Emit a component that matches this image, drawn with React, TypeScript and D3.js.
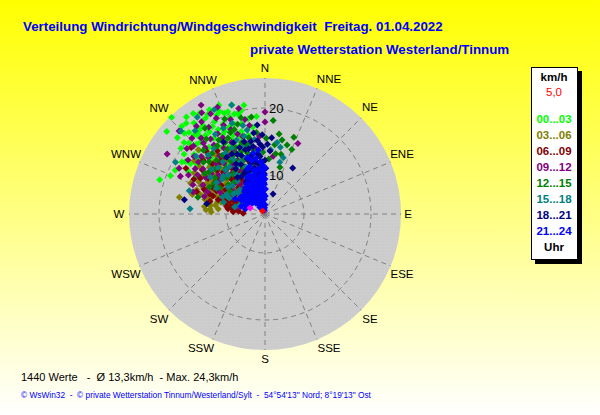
import { useEffect, useRef } from "react";
import * as d3 from "d3";

type Reading = [number, number]; // direction in degrees, speed in km/h

const directions = ["N", "NNE", "NE", "ENE", "E", "ESE", "SE", "SSE", "S", "SSW", "SW", "WSW", "W", "WNW", "NW", "NNW"];
const speedTicks = [10, 20];
const hourBands = ["00...03", "03...06", "06...09", "09...12", "12...15", "15...18", "18...21", "21...24"];
const bandColors = ["#00ff00", "#808000", "#800000", "#800080", "#008000", "#008080", "#000080", "#0000ff"];

const band00: Reading[] = [
  [316, 24.2], [310, 23.3], [288, 20.7], [292, 19.4], [319, 22.1], [349, 20.7], [340, 20.4], [355, 18.8], [327, 22.1], [311, 21.5],
  [302, 18.8], [296, 19.1], [334, 20.6], [322, 21.4], [317, 20.8], [313, 19.7], [308, 20.1], [304, 17.6], [325, 20.3], [330, 21.3],
  [337, 21.8], [343, 21.2], [345, 19.6], [350, 18.6], [341, 18.4], [335, 19], [329, 19.4], [323, 18.9], [318, 18.6], [314, 17.9],
  [310, 18], [306, 16.7], [320, 17.2], [326, 17.8], [332, 17.6], [338, 16.9], [344, 17], [348, 16.2], [327, 16], [333, 15.6],
  [339, 15], [321, 15.4], [316, 15.8], [311, 15.1], [330, 14.2], [336, 13.6], [324, 13.3], [341, 14.2], [347, 14.8], [318, 20],
  [326, 19], [334, 17.9], [340, 19.5], [312, 16.6], [328, 21], [299, 17.2], [320, 19.8], [336, 20.9], [315, 21.2], [331, 18.6],
  [324.5, 22.6], [331.5, 19.9], [328.5, 17.1], [322.5, 20.1], [319.5, 19.3], [315.5, 18.8], [311.5, 20.3], [306.5, 19.2], [303.5, 18.4], [337.5, 18.2],
  [342.5, 16.3], [345.5, 18.1], [352, 17.3], [335.5, 16.3], [329.5, 15.1], [323.5, 16.5], [318.5, 14.3], [313.5, 14], [309, 16.9], [300, 16],
  [297, 15.9], [343, 19.8], [347, 20], [332, 21.8], [338, 20.4], [321, 22.8], [316.5, 22.2],
];
const band03: Reading[] = [
  [281, 17.2], [274, 13], [277, 13.3], [295, 12.8], [290, 12], [298, 14], [302, 15], [306, 16.2], [312, 16.8], [287, 14.3],
  [284, 11.5], [292, 10.5], [297, 11], [303, 12.2], [309, 13.5], [315, 15], [320, 15.6], [288, 9.8], [294, 9], [300, 9.9],
  [306, 10.8], [312, 11.9], [318, 12.9], [324, 14], [299, 13.2], [293, 13.8], [286, 12.7], [280, 11.7], [310, 15], [305, 13.9],
  [316, 13.6], [322, 11.8], [328, 12.6], [283, 10.2], [290, 8.2], [297, 7.6], [304, 8.6], [311, 9.6], [318, 10.6], [296, 15.2],
  [300, 16.4], [307, 17.4], [314, 18], [285, 15.4], [272, 12.2], [330, 14.8], [288, 11], [308, 11.6], [317, 11.8], [326, 10],
  [291.5, 11.3], [294.5, 12.1], [296.5, 10], [299.5, 11.6], [302.5, 10.7], [301.5, 13.4], [304.5, 14.8], [288.5, 13.2], [283.5, 13.4], [278.5, 12.4],
  [307.5, 12.6], [313.5, 12.7], [319.5, 14.2], [311, 14.3], [294, 14.6], [289.5, 15], [292.5, 16.2], [276, 11.2], [286, 9.4], [298, 8.6],
  [281.5, 12.6], [275, 12.4], [285, 11], [290.5, 13.6],
];
const band06: Reading[] = [
  [274, 8.2], [287, 11.5], [281, 10], [292, 14], [297, 13], [303, 11.9], [309, 10.6], [315, 9.6], [285, 8.2], [291, 9.6],
  [296, 8.4], [302, 7.2], [308, 7.9], [314, 8.4], [320, 9.5], [326, 10.4], [289, 12.4], [294, 11.2], [300, 10.3], [306, 12.8],
  [312, 13.8], [318, 14.4], [324, 12.6], [330, 11.4], [283, 12.6], [278, 9.6], [276, 6.8], [287, 6.6], [298, 5.8], [310, 6.4],
  [322, 7.2], [334, 9], [299, 15.2], [305, 15.6], [311, 16.4], [296, 16], [317, 17], [329, 13.4], [335, 12.2], [293, 7.4],
  [304, 9.2], [316, 11.4], [302, 14.2], [290, 13], [323, 16], [272, 5.6], [280, 7.4], [340, 10.4], [345, 8.6], [328, 8.2],
  [300, 17.8], [312, 19], [319, 13], [286.5, 10.2], [292.5, 8.8], [298.5, 7.4], [305.5, 10.6], [310.5, 12.4], [301.5, 11.1], [295.5, 12.2],
  [283.5, 9.1], [289.5, 10.8], [307.5, 14.6], [313.5, 15], [319.5, 11.2], [325, 9.2], [331.5, 9.6], [337, 11.2], [342.5, 12.6], [279, 8.6],
  [288, 14.9], [303.5, 13], [315, 13], [322, 14.6],
];
const band09: Reading[] = [
  [301.5, 21.3], [329.6, 23], [336, 21.6], [360, 19.4], [360, 17.9], [298, 18.7], [297, 17], [287, 15.4], [25, 15.8], [8, 12.9],
  [322, 20.8], [316, 19.9], [327, 19.6], [333, 20.2], [340, 19.2], [346, 20.4], [350, 17.6], [310, 19.4], [305, 18.2], [318, 17.5],
  [324, 18], [331, 17.2], [338, 17.8], [344, 16.2], [312, 17], [306, 15.6], [300, 15.8], [316, 14.6], [322, 15.2], [328, 15.8],
  [334, 14.6], [340, 13], [346, 12.8], [352, 14], [310, 13.2], [304, 12.6], [296, 11.6], [292, 15.8], [320, 12], [326, 13],
  [332, 11.6], [338, 10.8], [344, 10.2], [314, 10.6], [306, 9.8], [298, 9.2], [322, 9.2], [330, 9.8], [336, 8.4], [350, 11],
  [284, 7.2], [300, 6.6], [318, 7.4], [342, 8], [328, 22], [314, 22], [320, 19], [335, 18.8], [308, 16.8], [294, 18],
  [356, 15.8], [348, 18.6], [325.5, 20.9], [331.5, 21.2], [319, 18.2], [323.5, 17], [329.5, 18.1], [313.5, 18.9], [309, 17.8], [303, 16.6],
  [335, 16], [341, 16.8], [315, 16.1], [321, 13.9], [327.5, 14.4], [333, 13.2], [307, 14.2], [301.5, 14.6], [313, 12.6], [319, 10.4],
  [325.5, 11.4], [291, 13.4], [286, 13.6], [295, 14.4], [344, 14.6], [349, 15.4],
];
const band12: Reading[] = [
  [5, 18.2], [10, 16.3], [13, 15.5], [22.6, 14.6], [20.6, 16.4], [17.7, 15], [1, 15.5], [10, 13.3], [17.7, 11.5], [284, 14.5],
  [352, 18.8], [346, 19], [340, 17.6], [334, 16.8], [328, 17.2], [322, 18.4], [316, 17.4], [310, 16.2], [304, 15], [296, 13.4],
  [348, 15.8], [342, 15.4], [336, 15], [330, 15.4], [324, 15], [318, 15], [312, 14.2], [306, 13.4], [300, 12], [354, 16.4],
  [350, 13.8], [344, 13.6], [338, 12.8], [332, 13], [326, 12], [320, 13.2], [314, 12], [358, 13.4], [8, 14.6], [354, 11.8],
  [346, 11.4], [340, 9.6], [334, 10.6], [326, 8.8], [318, 8.2], [300, 6.8], [4, 12.4], [15, 13.4], [325, 19.8], [337, 19.6],
  [343, 18.2], [337, 17.4], [331, 16.4], [325, 16.6], [319, 16.2], [313, 15.6], [307, 14.6], [301, 13], [345, 15], [339, 14.2],
  [333, 14.2], [327, 13.6], [321, 11.8], [315, 10.8], [309, 11.2], [303, 10.4], [347, 12.6], [341, 11.4], [335, 11.8], [329, 11],
];
const band15: Reading[] = [
  [343, 21.2], [325, 21.8], [314.6, 21.8], [274, 15.4], [287, 16], [16, 12.2], [9.6, 15], [355, 13.2], [13, 14.4], [18, 13],
  [352, 15.4], [346, 17.8], [340, 18.6], [334, 18.4], [328, 18.2], [322, 16.6], [316, 16.4], [310, 14.6], [304, 14], [298, 12.4],
  [348, 14.6], [342, 14.6], [336, 14], [330, 13.6], [324, 11.4], [318, 13], [312, 12.6], [306, 11], [302, 9.6], [294, 10],
  [350, 12.2], [344, 11.8], [338, 11.8], [332, 10.8], [326, 11], [320, 10.6], [314, 9], [308, 8.6], [342, 9.6], [336, 7.6],
  [330, 7.4], [322, 6.4], [290, 7], [283, 8], [300, 19.6], [320, 20.4], [334, 21.5], [310, 17.6], [5, 13.8], [348, 17],
  [345, 16.2], [339, 16], [333, 15.2], [327, 15], [321, 14.2], [315, 14], [309, 12.4], [303, 12.8], [297, 10.6], [292, 11],
  [347, 13.2], [341, 13], [335, 12.8], [329, 12.4], [323, 13], [317, 12.2], [311, 10.6], [305, 9.4], [343, 10.6], [337, 9.8],
  [331, 9.2], [325, 8.6], [319, 8], [286, 10.6],
];
const band18: Reading[] = [
  [31, 12.2], [22, 5.5], [355, 17.5], [280, 16.4], [280, 13], [4.5, 13.6], [356, 14.6], [352, 16.4], [349, 15.2], [346, 14.2],
  [342, 12.8], [338, 13.6], [334, 12.4], [330, 12.8], [353, 13.2], [350, 12], [347, 11.2], [344, 12], [340, 11], [336, 11.2],
  [332, 9.8], [328, 10.8], [354, 11], [351, 10.4], [348, 9.8], [345, 9], [341, 8.6], [337, 9.6], [333, 8], [329, 7],
  [356, 9.2], [353, 8.6], [350, 7.8], [346, 7.6], [342, 6.6], [338, 6.2], [0, 12.2], [2, 14.6], [357, 12], [359, 10.2],
  [5, 15.6], [1, 11], [358, 16], [352, 6.4], [346, 5.4], [320, 8], [310, 5.2], [344, 15.4], [336, 15.8], [326, 14.4],
  [330, 16.6], [350, 14.4], [354, 15.2], [347, 13.1], [343, 14.2], [339, 14.8], [335, 14], [331, 14.4], [327, 12.2], [323, 11],
  [348, 12.2], [352, 11.8], [345, 11], [341, 10], [337, 10.6], [333, 11], [329, 9.4], [325, 7.6], [355, 12.8], [358, 14.2],
];
const band21: Reading[] = [
  [333, 2.9], [340, 4], [345, 5], [350, 6], [355, 7], [358, 8], [0, 9], [352, 8.4], [347, 7.4], [342, 6.2],
  [337, 5.2], [331, 4.2], [326, 3.2], [356, 5.2], [352, 4.4], [347, 3.8], [342, 3.2], [338, 2.4], [358, 3.8], [354, 2.6],
  [349, 2], [344, 1.6], [0, 2.4], [356, 1.6], [350, 1], [1, 4.6], [1, 6.4], [359, 7.6], [356, 9], [353, 9.8],
  [349, 9.2], [345, 8.4], [341, 7.6], [337, 6.8], [333, 6], [329, 5.2], [325, 4.4], [320, 3.6], [314, 4.2], [306, 4.4],
  [300, 5], [296, 5.6], [359, 10], [356, 10.6], [352, 11], [348, 10.6], [344, 10.2], [340, 9.4], [336, 8.6], [332, 7.6],
  [328, 6.4], [323, 5.2], [358, 11.4], [355, 12], [351, 12.6], [346, 12.4], [342, 11.6], [338, 10.4], [0, 11], [349, 5.6],
  [343, 4.8], [336, 3.8], [330, 2.6], [322, 2.2], [354, 8], [350, 9.4], [346, 6.4], [340, 5.4], [334, 4.6], [357, 6.2],
  [297, 8.5], [305, 7.6], [312, 7.2], [318, 7.8], [324, 8.4], [329, 9], [334, 10.2], [339, 11.4], [343, 13], [349, 13.4],
  [354, 13.8], [310, 5.8], [316, 5.6], [322, 6.4], [328, 7.8], [333, 8.8], [300, 7], [288, 6.4], [284, 5.2], [338, 8.1],
  [343, 7], [348, 8.2], [353, 6.8], [346, 10.9], [303, 6.2], [314, 6.6], [319, 4.6], [326, 5.9], [331, 6.9],
];
const markHighlights: Reading[] = [[292, 4.1]];
const markCurrent: Reading[] = [[320, 1]];

const bands = [band00, band03, band06, band09, band12, band15, band18, band21];

// label centres around the rim, in compass order
const labelX = [265, 329, 370, 402, 408, 402, 370, 329, 265, 201, 159, 126, 119, 126, 159, 203];
const labelY = [68, 79, 107, 154, 214, 274, 319, 348, 359, 348, 319, 274, 214, 154, 108, 80];

const cx = 265;
const cy = 214;
const outerRadius = 136;
const arial = "'Liberation Sans', Arial, sans-serif";

export default function App() {
  const ref = useRef<SVGSVGElement | null>(null);

  useEffect(() => {
    if (!ref.current) return;
    document.body.style.margin = "0";

    const svg = d3.select(ref.current);
    svg.selectAll("*").remove();

    const defs = svg.append("defs");
    const grad = defs.append("linearGradient").attr("id", "bg").attr("x1", 0).attr("x2", 0).attr("y1", 0).attr("y2", 1);
    grad.append("stop").attr("offset", "0%").attr("stop-color", "#ffff00");
    grad.append("stop").attr("offset", "100%").attr("stop-color", "#ffffff");

    const dots = defs.append("pattern").attr("id", "dots").attr("width", 3).attr("height", 3).attr("patternUnits", "userSpaceOnUse");
    dots.append("rect").attr("width", 3).attr("height", 3).attr("fill", "#cccccc");
    dots.append("rect").attr("width", 1).attr("height", 1).attr("fill", "#d2d2d2");

    svg.append("rect").attr("width", 600).attr("height", 415).attr("fill", "url(#bg)");

    // the radial axis of the original is not linear
    const r = d3.scaleLinear().domain([0, 10, 20, 24.3]).range([0, 39, 106, 135]);
    const px = (d: Reading) => cx + r(d[1]) * Math.sin((d[0] * Math.PI) / 180);
    const py = (d: Reading) => cy - r(d[1]) * Math.cos((d[0] * Math.PI) / 180);

    const dirAngle = d3.scalePoint<string>().domain(directions).range([0, 337.5]);

    svg.append("circle").attr("cx", cx).attr("cy", cy).attr("r", outerRadius).attr("fill", "url(#dots)");

    const grid = svg.append("g").attr("fill", "none").attr("stroke", "#808080").attr("stroke-dasharray", "5,4");
    speedTicks.forEach((t) => {
      grid.append("circle").attr("cx", cx).attr("cy", cy).attr("r", r(t));
    });
    directions.forEach((d) => {
      const a = ((dirAngle(d) as number) * Math.PI) / 180;
      grid
        .append("line")
        .attr("x1", cx)
        .attr("y1", cy)
        .attr("x2", cx + outerRadius * Math.sin(a))
        .attr("y2", cy - outerRadius * Math.cos(a));
    });
    svg.append("rect").attr("x", cx - 2).attr("y", cy - 2).attr("width", 4).attr("height", 4).attr("fill", "#808080");

    directions.forEach((d, i) => {
      svg
        .append("text")
        .attr("x", labelX[i])
        .attr("y", labelY[i] + 4)
        .attr("text-anchor", "middle")
        .attr("font-family", arial)
        .attr("font-size", 11.5)
        .attr("fill", "#000")
        .text(d);
    });

    const symbol = d3.symbol().type(d3.symbolDiamond2).size(31);
    const drawMarks = (data: Reading[], color: string) => {
      svg
        .append("g")
        .attr("fill", color)
        .selectAll("path")
        .data(data)
        .join("path")
        .attr("d", symbol() as string)
        .attr("transform", (d) => `translate(${px(d)},${py(d)})`);
    };
    bands.forEach((b, i) => drawMarks(b, bandColors[i]));
    drawMarks(markHighlights, "#ff00ff");
    drawMarks(markCurrent, "#ff0000");

    speedTicks.forEach((t) => {
      svg
        .append("text")
        .attr("x", cx + 4)
        .attr("y", cy - r(t) + 5)
        .attr("font-family", arial)
        .attr("font-size", 13)
        .attr("fill", "#000")
        .text(t);
    });

    const addText = (x: number, y: number, s: string, size: number, color: string, weight = "normal", anchor = "start") =>
      svg
        .append("text")
        .attr("x", x)
        .attr("y", y)
        .attr("font-family", arial)
        .attr("font-size", size)
        .attr("font-weight", weight)
        .attr("fill", color)
        .attr("text-anchor", anchor)
        .style("white-space", "pre")
        .text(s);

    addText(23, 31, "Verteilung Windrichtung/Windgeschwindigkeit  Freitag. 01.04.2022", 13.33, "#0000ff", "bold");
    addText(250, 54, "private Wetterstation Westerland/Tinnum", 13.33, "#0000ff", "bold");
    addText(21, 381, "1440 Werte   -  Ø 13,3km/h  - Max. 24,3km/h", 11, "#000");
    addText(21, 398, "© WsWin32  -  © private Wetterstation Tinnum/Westerland/Sylt  -  54°54'13\" Nord; 8°19'13\" Ost", 8.33, "#0000ff");

    // legend box
    svg.append("rect").attr("x", 535).attr("y", 71).attr("width", 47).attr("height", 193).attr("fill", "#000");
    svg.append("rect").attr("x", 531.5).attr("y", 67.5).attr("width", 46).attr("height", 192).attr("fill", "#fff").attr("stroke", "#000");
    addText(554, 81, "km/h", 11.5, "#000", "bold", "middle");
    addText(554, 96, "5,0", 11.5, "#ff0000", "normal", "middle");
    hourBands.forEach((b, i) => addText(554, 123 + i * 16, b, 11.5, bandColors[i], "bold", "middle"));
    addText(554, 251, "Uhr", 11.5, "#000", "bold", "middle");
  }, []);

  return <svg ref={ref} width={600} height={415} style={{ position: "absolute", left: 0, top: 0 }} />;
}
